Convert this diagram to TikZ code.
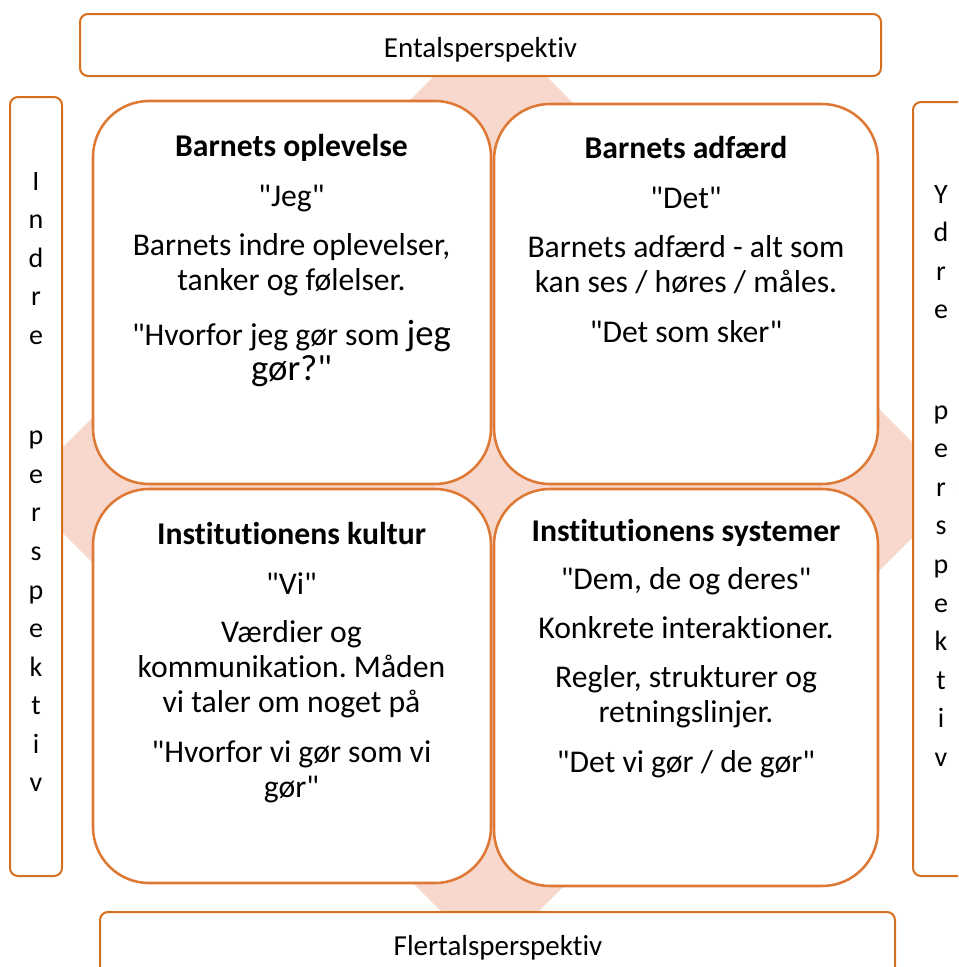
\documentclass[tikz,border=0pt]{standalone}
\usepackage{fontspec}
\setmainfont{Carlito}[Ligatures={TeXOff,CommonOff}]
\frenchspacing
\usetikzlibrary{positioning}
\definecolor{frameorange}{RGB}{214,112,30}
\definecolor{quadorange}{RGB}{221,121,52}
\definecolor{diamondpink}{RGB}{248,215,204}
\tikzset{
  persbox/.style={draw=frameorange, line width=1.5pt, fill=white, rounded corners=6pt},
  quadbox/.style={draw=quadorange, line width=1.9pt, fill=white, rounded corners=42pt},
  quadtext/.style={anchor=north, inner sep=0pt, align=center, font=\fontsize{23.75}{26.25}\selectfont},
  perstext/.style={anchor=base, inner sep=0pt, font=\fontsize{21.75}{25}\selectfont},
  sidetext/.style={anchor=north, inner sep=0pt, align=center, font=\fontsize{21}{28.9}\selectfont},
}
\newcommand{\bigword}[1]{{\fontsize{27.5}{26.25}\selectfont #1}}

\begin{document}
\begin{tikzpicture}[x=0.75pt,y=0.75pt,yscale=-1,xscale=1]
        \useasboundingbox (0,0) rectangle (958,967);
        \clip (0,0) rectangle (958,967);
        %Shape: Diamond
        \fill[diamondpink] (490,20) -- (960,490) -- (490,960) -- (20,490) -- cycle;
        %Shape: Rounded Rectangle [top]
        \draw[persbox] (80,14) rectangle (881,76);
        %Shape: Rounded Rectangle [bottom]
        \draw[persbox] (100,912) rectangle (895,1000);
        %Shape: Rounded Rectangle [left]
        \draw[persbox] (10,97) rectangle (62,876);
        %Shape: Rounded Rectangle [right]
        \draw[persbox] (913,102) rectangle (990,876);
        %Shape: Rounded Rectangle [quadrants]
        \draw[quadbox] (93,101) rectangle (491,484);
        \draw[quadbox] (494,104) rectangle (878,484);
        \draw[quadbox] (93,489) rectangle (491,883);
        \draw[quadbox] (494,489) rectangle (878,886);
        % Text Node
        \node[perstext] (ental) at (480.5,57) {Entalsperspektiv};
        % Text Node
        \node[perstext] (flertal) at (498,955) {Flertalsperspektiv};
        % Text Node
        \node[sidetext] (indre) at (36,172)
            {I\\n\\d\\r\\e\\[46.5pt]p\\e\\r\\s\\p\\e\\k\\t\\i\\v};
        % Text Node
        \node[sidetext] (ydre) at (941,185)
            {Y\\d\\r\\e\\[46.5pt]p\\e\\r\\s\\p\\e\\k\\t\\i\\v};
        % Text Node
        \node[quadtext] (oplevelse) at (291.5,134)
            {\textbf{Barnets oplevelse}\\[11pt]
             "Jeg"\\[11pt]
             Barnets indre oplevelser,\\ tanker og følelser.\\[15pt]
             "Hvorfor jeg gør som \bigword{jeg}\\ \bigword{gør?"}};
        % Text Node
        \node[quadtext] (adfaerd) at (686,136)
            {\textbf{Barnets adfærd}\\[11pt]
             "Det"\\[11pt]
             Barnets adfærd - alt som\\ kan ses / høres / måles.\\[11pt]
             "Det som sker"};
        % Text Node
        \node[quadtext] (kultur) at (291.5,522)
            {\textbf{Institutionens kultur}\\[11pt]
             "Vi"\\[10pt]
             Værdier og\\ kommunikation. Måden\\ vi taler om noget på\\[11pt]
             "Hvorfor vi gør som vi\\ gør"};
        % Text Node
        \node[quadtext] (systemer) at (686,519)
            {\textbf{Institutionens systemer}\\[10pt]
             "Dem, de og deres"\\[10pt]
             Konkrete interaktioner.\\[11pt]
             Regler, strukturer og\\ retningslinjer.\\[11pt]
             "Det vi gør / de gør"};
\end{tikzpicture}
\end{document}
